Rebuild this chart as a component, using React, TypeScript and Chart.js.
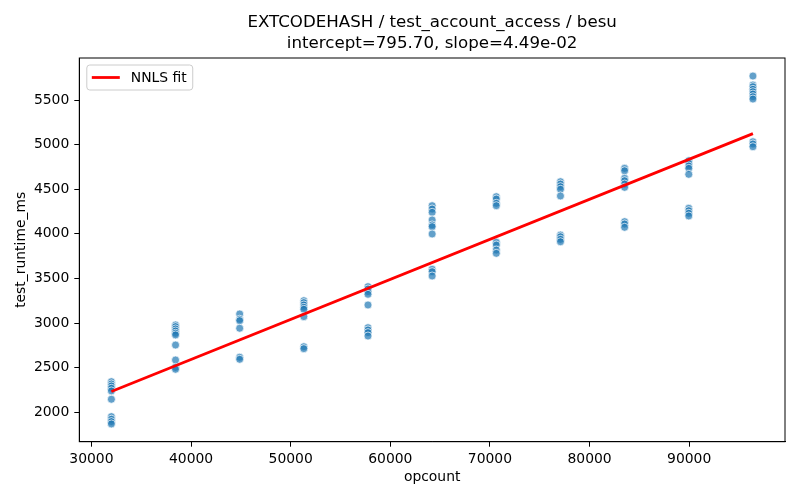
import { useEffect, useRef } from 'react';
import { Chart, ChartConfiguration, Plugin, registerables } from 'chart.js';

Chart.register(...registerables);

// opcount columns of the benchmark
const OPCOUNTS = [32000, 38440, 44880, 51320, 57760, 64200, 70640, 77080, 83520, 89960, 96400];

// measured runtimes (ms), one list per opcount column
const RUNTIMES = [
  [2343, 2317, 2295, 2269, 2239, 2146, 1951, 1922, 1895, 1869],
  [2979, 2960, 2934, 2911, 2886, 2867, 2754, 2586, 2504, 2482],
  [3102, 3043, 3027, 2942, 2617, 2594],
  [3251, 3229, 3203, 3177, 3155, 3072, 2735, 2713],
  [3408, 3382, 3352, 3323, 3203, 2948, 2923, 2893, 2855],
  [4316, 4279, 4242, 4156, 4100, 4081, 3999, 3603, 3576, 3528],
  [4417, 4391, 4343, 4316, 3906, 3875, 3819, 3782],
  [4585, 4559, 4529, 4500, 4425, 3987, 3968, 3939, 3912],
  [4735, 4708, 4623, 4596, 4559, 4522, 4137, 4111, 4074],
  [4820, 4791, 4761, 4735, 4668, 4287, 4260, 4231, 4201],
  [5770, 5669, 5650, 5621, 5594, 5568, 5538, 5512, 5033, 5008, 4977],
];

const FIT_INTERCEPT = 795.7;
const FIT_SLOPE = 4.49e-2;

const X_TICKS = [30000, 40000, 50000, 60000, 70000, 80000, 90000];
const Y_TICKS = [2000, 2500, 3000, 3500, 4000, 4500, 5000, 5500];

const TITLE_LINES = ['EXTCODEHASH / test_account_access / besu', 'intercept=795.70, slope=4.49e-02'];
const LEGEND_LABEL = 'NNLS fit';

const FONT = '"DejaVu Sans", sans-serif';

// axes frame, two-line title and the boxed legend inside the plot
const decorPlugin: Plugin = {
  id: 'decor',
  afterDraw(chart) {
    const { ctx, chartArea: a } = chart;
    ctx.save();
    ctx.strokeStyle = '#000';
    ctx.lineWidth = 1;
    ctx.strokeRect(a.left, a.top, a.right - a.left, a.bottom - a.top);

    ctx.fillStyle = '#000';
    ctx.textAlign = 'center';
    ctx.textBaseline = 'middle';
    ctx.font = `16.67px ${FONT}`;
    const cx = (a.left + a.right) / 2;
    ctx.fillText(TITLE_LINES[0], cx, 23);
    ctx.fillText(TITLE_LINES[1], cx, 43.5);

    ctx.font = `13.9px ${FONT}`;
    const tw = ctx.measureText(LEGEND_LABEL).width;
    const bx = a.left + 7.5;
    const by = a.top + 7;
    const bw = 44 + tw + 6;
    const bh = 25;
    ctx.beginPath();
    ctx.roundRect(bx, by, bw, bh, 3);
    ctx.fillStyle = 'rgba(255,255,255,0.8)';
    ctx.fill();
    ctx.strokeStyle = '#cccccc';
    ctx.stroke();
    ctx.beginPath();
    ctx.moveTo(bx + 5, by + 12.5);
    ctx.lineTo(bx + 33, by + 12.5);
    ctx.strokeStyle = '#ff0000';
    ctx.lineWidth = 2.8;
    ctx.stroke();
    ctx.fillStyle = '#000';
    ctx.textAlign = 'left';
    ctx.fillText(LEGEND_LABEL, bx + 44, by + 13);
    ctx.restore();
  },
};

export default function App() {
  const canvasRef = useRef<HTMLCanvasElement>(null);
  const chartRef = useRef<Chart | null>(null);

  useEffect(() => {
    document.body.style.margin = '0';
    if (!canvasRef.current) return;
    if (chartRef.current) chartRef.current.destroy();

    const points = OPCOUNTS.flatMap((x, i) => RUNTIMES[i].map((y) => ({ x, y })));
    const fitX = [OPCOUNTS[0], OPCOUNTS[OPCOUNTS.length - 1]];
    const fit = fitX.map((x) => ({ x, y: FIT_INTERCEPT + FIT_SLOPE * x }));

    const config: ChartConfiguration = {
      type: 'scatter',
      data: {
        datasets: [
          {
            label: LEGEND_LABEL,
            data: fit,
            showLine: true,
            borderColor: '#ff0000',
            borderWidth: 2.8,
            pointRadius: 0,
            order: 0,
          },
          {
            label: 'runs',
            data: points,
            backgroundColor: 'rgba(31,119,180,0.7)',
            borderColor: 'rgba(255,255,255,0.7)',
            borderWidth: 1,
            pointRadius: 4,
            order: 1,
          },
        ],
      },
      options: {
        responsive: false,
        animation: false,
        events: [],
        layout: { padding: { top: 58, right: 15, left: 0, bottom: 0 } },
        plugins: {
          legend: { display: false },
          title: { display: false },
          tooltip: { enabled: false },
        },
        scales: {
          x: {
            type: 'linear',
            min: 28780,
            max: 99620,
            afterBuildTicks: (s) => {
              s.ticks = X_TICKS.map((value) => ({ value }));
            },
            afterFit: (s) => {
              s.height = 58.3;
              s.paddingLeft = 0;
              s.paddingRight = 0;
            },
            ticks: {
              autoSkip: false,
              maxRotation: 0,
              padding: 4,
              color: '#000',
              font: { family: FONT, size: 13.9 },
              callback: (v) => String(v),
            },
            grid: { drawOnChartArea: false, drawTicks: true, tickLength: 5, tickColor: '#000' },
            border: { display: true, color: '#000' },
            title: {
              display: true,
              text: 'opcount',
              color: '#000',
              font: { family: FONT, size: 13.9 },
              padding: { top: 0, bottom: 14.7 },
            },
          },
          y: {
            type: 'linear',
            min: 1670,
            max: 5972,
            afterBuildTicks: (s) => {
              s.ticks = Y_TICKS.map((value) => ({ value }));
            },
            afterFit: (s) => {
              s.width = 79.3;
              s.paddingTop = 0;
              s.paddingBottom = 0;
            },
            ticks: {
              padding: 5,
              color: '#000',
              font: { family: FONT, size: 13.9 },
              callback: (v) => String(v),
            },
            grid: { drawOnChartArea: false, drawTicks: true, tickLength: 5, tickColor: '#000' },
            border: { display: true, color: '#000' },
            title: {
              display: true,
              text: 'test_runtime_ms',
              color: '#000',
              font: { family: FONT, size: 13.9 },
              padding: { top: 13.4, bottom: 0 },
            },
          },
        },
      },
      plugins: [decorPlugin],
    };

    chartRef.current = new Chart(canvasRef.current, config);

    return () => {
      if (chartRef.current) {
        chartRef.current.destroy();
        chartRef.current = null;
      }
    };
  }, []);

  return (
    <div style={{ width: 800, height: 500, background: '#fff' }}>
      <canvas ref={canvasRef} width={800} height={500} />
    </div>
  );
}
